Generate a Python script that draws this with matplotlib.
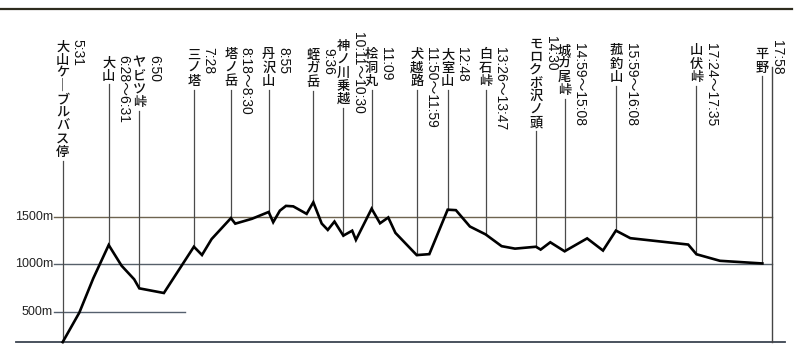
import matplotlib
matplotlib.use('Agg')
import matplotlib.pyplot as plt
import matplotlib.transforms as mtransforms
from matplotlib.lines import Line2D

# route profile: distance from start (km) and elevation (m)
dist = [0.00, 1.07, 1.97, 2.96, 3.79, 4.60, 4.93, 6.51, 8.44, 8.96, 9.58,
        10.82, 11.10, 12.17, 13.25, 13.54, 13.97, 14.36, 14.83, 15.69, 16.12,
        16.66, 17.05, 17.48, 18.05, 18.62, 18.86, 19.87, 20.41, 20.94, 21.40,
        22.77, 23.58, 24.76, 25.29, 26.19, 27.20, 28.23, 29.09, 30.44, 30.74,
        31.36, 32.28, 33.73, 34.75, 35.58, 36.51, 40.23, 40.76, 42.27, 45.00]
elev = [180, 490, 852, 1202, 984, 841, 746, 697, 1184, 1097, 1265,
        1485, 1427, 1478, 1550, 1442, 1564, 1614, 1609, 1530, 1652,
        1428, 1361, 1449, 1301, 1353, 1256, 1584, 1431, 1492, 1330,
        1096, 1106, 1574, 1569, 1397, 1314, 1190, 1164, 1184, 1154,
        1231, 1136, 1272, 1144, 1354, 1274, 1207, 1105, 1036, 1008]

# waypoints
names = ['大山ケーブルバス停', '大山', 'ヤビツ峠', '三ノ塔', '塔ノ岳', '丹沢山',
         '蛭ガ岳', '神ノ川乗越', '桧洞丸', '犬越路', '大室山', '白石峠',
         'モロクボ沢ノ頭', '城ガ尾峠', '菰釣山', '山伏峠', '平野']
times = ['5:31', '6:28～6:31', '6:50', '7:28', '8:18～8:30', '8:55',
         '9:36', '10:11～10:30', '11:09', '11:50～11:59', '12:48', '13:26～13:47',
         '14:30', '14:59～15:08', '15:59～16:08', '17:24～17:35', '17:58']
point_idx = [0, 3, 6, 8, 11, 14, 20, 24, 27, 31, 33, 36, 39, 42, 45, 48, 50]

grid_levels = [500, 1000, 1500]
grid_labels = ['500m', '1000m', '1500m']

# layout (pixels from the top of the 356 px image)
name_top = [39, 55, 55, 47, 47, 47, 48, 39, 47, 47, 47, 47, 36, 43, 43, 43, 47]
time_top = [39, 55, 55, 47, 47, 47, 48, 32, 47, 47, 47, 47, 36, 43, 43, 43, 40]
H = 356.0
CH = 13.2          # vertical step of one stacked character
NAME_FS = 9.5
EM = NAME_FS * 100 / 72.0
base = 180         # elevation at the bottom line
x_right = 45.61    # right frame
line_col = '#4a4a4a'

fig = plt.figure(figsize=(8, 3.56), dpi=100)
ax = fig.add_axes([0, 0, 1, 1])
ax.set_xlim(-4.03, 47.42)
ax.set_ylim(34, 3781)
ax.axis('off')
tr = mtransforms.blended_transform_factory(ax.transData, fig.transFigure)


def fy(px):
    return 1 - px / H


def px2m(px):
    return 1500 - (px - 216.7) * 10.526


# horizontal guides
grid_cols = {500: '#55606e', 1000: '#56606a', 1500: '#6e6450'}
for lev, lab in zip(grid_levels, grid_labels):
    xend = 7.87 if lev == 500 else x_right
    ax.plot([-0.56, xend], [lev, lev], color=grid_cols[lev], lw=1.0)
    ax.text(-0.62, lev, lab, ha='right', va='center', fontsize=9,
            family=['Liberation Sans'], color='#222222')

# bottom line, right frame, top rule
ax.plot([-3.02, 46.45], [base, base], color='#3c4450', lw=1.3)
ax.plot([x_right, x_right], [base, px2m(67)], color='#444444', lw=1.0)
fig.add_artist(Line2D([0, 0.99], [fy(9), fy(9)], color='#2e2c1e', lw=1.6))

# leader lines and labels
for k, (nm, t, i) in enumerate(zip(names, times, point_idx)):
    x = dist[i]
    top = name_top[k]
    line_top = top + len(nm) * CH + 3
    ax.plot([x, x], [elev[i], px2m(line_top)], color=line_col, lw=0.9)
    for j, ch in enumerate(nm):
        if ch == 'ー':
            ch = '｜'
        ax.text(x, fy(top + j * CH + 0.86 * EM), ch, transform=tr,
                ha='center', va='baseline', fontsize=NAME_FS,
                fontweight='medium', family=['Noto Sans CJK JP'],
                color='#111111')
    ax.text(x + 0.95, fy(time_top[k]), t, transform=tr, rotation=-90,
            ha='center', va='top', fontsize=10,
            family=['Liberation Sans', 'Noto Sans CJK JP'], color='#111111')

# the profile itself
ax.plot(dist, elev, color='black', lw=1.9, solid_joinstyle='miter')

fig.savefig('out.png', dpi=100)
